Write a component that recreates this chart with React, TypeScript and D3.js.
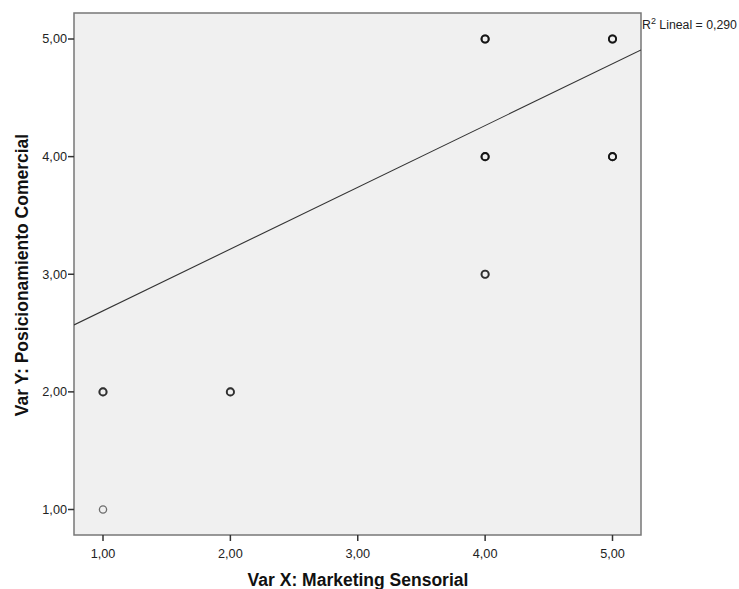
import React from 'react'
import * as d3 from 'd3'

// observations (x, y, how many cases overlap at that spot)
const xValues = [1, 1, 2, 4, 4, 4, 5, 5]
const yValues = [1, 2, 2, 3, 4, 5, 4, 5]
const caseCounts = [1, 2, 2, 2, 3, 3, 3, 3]

const xTicks = [1, 2, 3, 4, 5]
const yTicks = [1, 2, 3, 4, 5]

// linear fit as printed by SPSS
const fitIntercept = 2.164
const fitSlope = 0.525
const rSquared = '0,290'

const xTitle = 'Var X: Marketing Sensorial'
const yTitle = 'Var Y: Posicionamiento Comercial'

const W = 739
const H = 589
const box = { left: 74, top: 13, right: 641, bottom: 535 }

const fmt = (v: number) => v.toFixed(2).replace('.', ',')

export default function App() {
  const x = d3.scaleLinear().domain([1, 5]).range([103, 612.5])
  const y = d3.scaleLinear().domain([1, 5]).range([509.5, 39])

  const x0 = x.invert(box.left)
  const x1 = x.invert(box.right)
  const fitLine = d3.line<number>()
    .x(d => x(d))
    .y(d => y(fitIntercept + fitSlope * d))

  const points = xValues.map((v, i) => ({ x: v, y: yValues[i], n: caseCounts[i] }))

  return (
    <svg width={W} height={H} style={{ position: 'absolute', left: 0, top: 0 }}
      fontFamily="'Liberation Sans', Arial, sans-serif">
      <rect x={box.left} y={box.top} width={box.right - box.left} height={box.bottom - box.top}
        fill="#f0f0f0" stroke="#777" strokeWidth={1.5} />
      <clipPath id="plotClip">
        <rect x={box.left} y={box.top} width={box.right - box.left} height={box.bottom - box.top} />
      </clipPath>

      {/* y axis ticks */}
      {yTicks.map(t => (
        <g key={'y' + t}>
          <line x1={box.left - 6} x2={box.left} y1={y(t)} y2={y(t)} stroke="#333" strokeWidth={1.5} />
          <text x={box.left - 7} y={y(t)} dy="0.35em" textAnchor="end" fontSize={12.7} fill="#222">{fmt(t)}</text>
        </g>
      ))}

      {/* x axis ticks */}
      {xTicks.map(t => (
        <g key={'x' + t}>
          <line x1={x(t)} x2={x(t)} y1={box.bottom} y2={box.bottom + 6} stroke="#333" strokeWidth={1.5} />
          <text x={x(t)} y={box.bottom + 23} textAnchor="middle" fontSize={12.7} fill="#222">{fmt(t)}</text>
        </g>
      ))}

      {/* fit line */}
      <path d={fitLine([x0, x1]) || ''} fill="none" stroke="#333" strokeWidth={1.1} clipPath="url(#plotClip)" />

      {/* points, overlapping cases drawn on top of each other */}
      {points.map((p, i) =>
        d3.range(p.n).map(k => (
          <circle key={i + '-' + k} cx={x(p.x)} cy={y(p.y)} r={3.6}
            fill="none" stroke="#000" strokeOpacity={0.55} strokeWidth={p.n > 1 ? 1.9 : 1.3} />
        ))
      )}

      <text x={box.right + 1} y={29} fontSize={12.3} fill="#222">
        R<tspan fontSize={9} dy={-5}>2</tspan><tspan dy={5}> Lineal = {rSquared}</tspan>
      </text>

      <text x={358} y={586} textAnchor="middle" fontSize={17.5} fontWeight="bold" fill="#111">{xTitle}</text>
      <text transform={`translate(28,275) rotate(-90)`} textAnchor="middle"
        fontSize={17.5} fontWeight="bold" fill="#111">{yTitle}</text>
    </svg>
  )
}
